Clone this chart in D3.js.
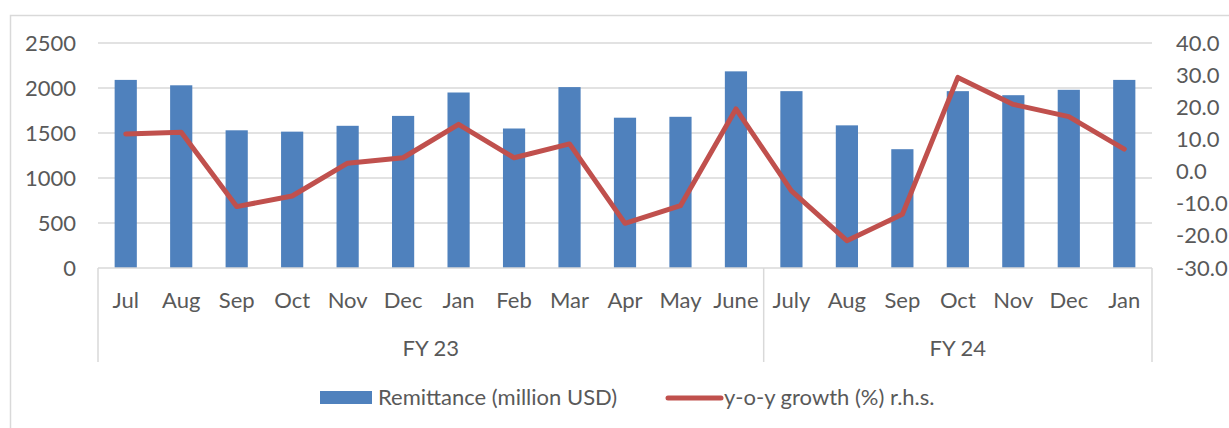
<!DOCTYPE html>
<html>
<head>
<meta charset="utf-8">
<script src="https://cdn.jsdelivr.net/npm/d3@7"></script>
<style>
  body { margin: 0; background: #fff; }
  svg text { font-family: Lato, "Open Sans", sans-serif; fill: #595959; }
</style>
</head>
<body>
<svg id="canvas"></svg>
<script>
const months = ["Jul", "Aug", "Sep", "Oct", "Nov", "Dec", "Jan", "Feb", "Mar", "Apr", "May", "June",
    "July", "Aug", "Sep", "Oct", "Nov", "Dec", "Jan"];
const remittance = [2090, 2030, 1530, 1515, 1580, 1690, 1950, 1550, 2010, 1670, 1680, 2185,
    1965, 1585, 1320, 1965, 1920, 1980, 2090];
const growth = [11.7, 12.2, -10.9, -7.6, 2.6, 4.3, 14.7, 4.3, 8.6, -16.1, -10.6, 19.5,
    -6.0, -21.5, -13.3, 29.3, 20.9, 17.1, 7.0];
const fiscalYears = ["FY 23", "FY 24"];
const fiscalCounts = [12, 7];
const leftTicks = [0, 500, 1000, 1500, 2000, 2500];
const rightTicks = [-30, -20, -10, 0, 10, 20, 30, 40];
const seriesNames = ["Remittance (million USD)", "y-o-y growth (%) r.h.s."];

const width = 1229,
    height = 428;
const fontSize = 22;

const svg = d3.select("#canvas")
    .attr("width", width)
    .attr("height", height);

const box = { left: 98, right: 1152, top: 43, bottom: 268 };

// chart frame
svg.append("rect")
    .attr("x", 10.5).attr("y", 15.5)
    .attr("width", 1240).attr("height", 440)
    .attr("fill", "none")
    .attr("stroke", "#d9d9d9")
    .attr("stroke-width", 1.5);

const scaleX = d3.scaleBand()
    .domain(d3.range(months.length))
    .range([box.left, box.right])
    .paddingInner(0.6)
    .paddingOuter(0.3);
const step = scaleX.step();
const center = i => scaleX(i) + scaleX.bandwidth() / 2;

const scaleY = d3.scaleLinear()
    .domain([0, 2500])
    .range([box.bottom, box.top]);
const scaleY2 = d3.scaleLinear()
    .domain([-30, 40])
    .range([box.bottom, box.top]);

// gridlines
svg.append("g")
    .selectAll("line")
    .data(leftTicks.slice(1))
    .join("line")
    .attr("x1", box.left).attr("x2", box.right)
    .attr("y1", d => scaleY(d)).attr("y2", d => scaleY(d))
    .attr("stroke", "#d9d9d9")
    .attr("stroke-width", 1.5);

// left axis
const axisLeft = svg.append("g")
    .attr("transform", `translate(${box.left - 22}, 0)`)
    .call(d3.axisLeft(scaleY).tickValues(leftTicks).tickSize(0).tickPadding(0).tickFormat(d3.format("d")));
axisLeft.select(".domain").remove();
axisLeft.selectAll("text").attr("font-size", fontSize).attr("fill", "#595959");

// right axis
const fmt1 = d3.format(".1f");
const axisRight = svg.append("g")
    .attr("transform", `translate(${box.right + 24}, 0)`)
    .call(d3.axisRight(scaleY2).tickValues(rightTicks).tickSize(0).tickPadding(0)
        .tickFormat(d => fmt1(d).replace("\u2212", "-")));
axisRight.select(".domain").remove();
axisRight.selectAll("text").attr("font-size", fontSize).attr("fill", "#595959");

// bars
svg.append("g")
    .selectAll("rect")
    .data(remittance)
    .join("rect")
    .attr("x", (d, i) => scaleX(i))
    .attr("width", scaleX.bandwidth())
    .attr("y", d => scaleY(d))
    .attr("height", d => scaleY(0) - scaleY(d))
    .attr("fill", "#4f81bd");

// x axis baseline
svg.append("line")
    .attr("x1", box.left).attr("x2", box.right)
    .attr("y1", box.bottom).attr("y2", box.bottom)
    .attr("stroke", "#d9d9d9")
    .attr("stroke-width", 1.5);

// month labels
const axisBottom = svg.append("g")
    .attr("transform", `translate(0, ${box.bottom})`)
    .call(d3.axisBottom(scaleX).tickSize(0).tickPadding(24).tickFormat(i => months[i]));
axisBottom.select(".domain").remove();
axisBottom.selectAll("text").attr("font-size", fontSize).attr("fill", "#595959");

// fiscal year groups
const starts = [0];
fiscalCounts.forEach((c, i) => starts.push(starts[i] + c));
const dividerX = starts.map(s => box.left + s * step);
svg.append("g")
    .selectAll("line")
    .data(dividerX)
    .join("line")
    .attr("x1", d => d).attr("x2", d => d)
    .attr("y1", box.bottom).attr("y2", 362)
    .attr("stroke", "#d9d9d9")
    .attr("stroke-width", 1.5);
svg.append("g")
    .selectAll("text")
    .data(fiscalYears)
    .join("text")
    .attr("x", (d, i) => (dividerX[i] + dividerX[i + 1]) / 2)
    .attr("y", 356)
    .attr("text-anchor", "middle")
    .attr("font-size", fontSize)
    .text(d => d);

// growth line
const lineGenerator = d3.line()
    .x((d, i) => center(i))
    .y(d => scaleY2(d));
svg.append("path")
    .attr("d", lineGenerator(growth))
    .attr("fill", "none")
    .attr("stroke", "#c0504d")
    .attr("stroke-width", 5)
    .attr("stroke-linejoin", "round")
    .attr("stroke-linecap", "round");

// legend
const legend = svg.append("g");
legend.append("rect")
    .attr("x", 320).attr("y", 391)
    .attr("width", 52).attr("height", 13)
    .attr("fill", "#4f81bd");
legend.append("text")
    .attr("x", 378).attr("y", 405)
    .attr("font-size", fontSize)
    .text(seriesNames[0]);
legend.append("line")
    .attr("x1", 668).attr("x2", 721)
    .attr("y1", 398).attr("y2", 398)
    .attr("stroke", "#c0504d")
    .attr("stroke-width", 5)
    .attr("stroke-linecap", "round");
legend.append("text")
    .attr("x", 724).attr("y", 405)
    .attr("font-size", fontSize)
    .text(seriesNames[1]);
</script>
</body>
</html>
